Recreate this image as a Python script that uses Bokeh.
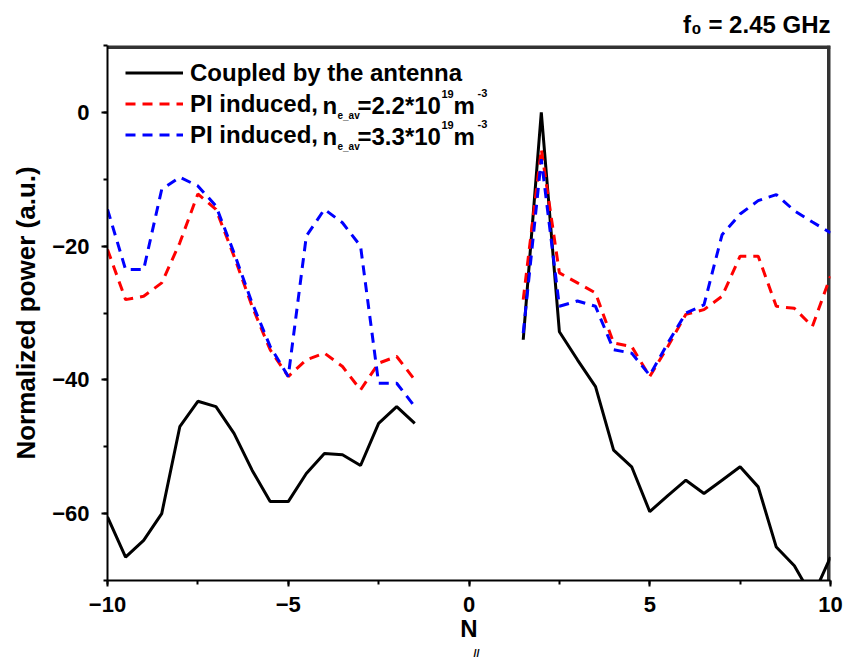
import math
from bokeh.plotting import figure
from bokeh.models import Range1d, SingleIntervalTicker, Legend, LegendItem, Label, Title
from bokeh.embed import file_html
from bokeh.resources import INLINE

# ---- data ----
n_par_left = [-10, -9.5, -9, -8.5, -8, -7.5, -7, -6.5, -6, -5.5, -5, -4.5, -4, -3.5, -3, -2.5, -2, -1.5]
n_par_right = [1.5, 2, 2.5, 3, 3.5, 4, 4.5, 5, 5.5, 6, 6.5, 7, 7.5, 8, 8.5, 9, 9.5, 10]

coupled_left = [-60.5, -66.5, -64, -60, -47, -43.2, -44, -48, -53.5, -58.2, -58.2, -54, -51, -51.2, -52.8, -46.5, -44, -46.5]
coupled_right = [-34, 0, -32.8, -37, -41, -50.5, -53, -59.7, -57.3, -55, -57, -55, -53, -56, -65, -67.8, -72.5, -66.5]

pi22_left = [-20.5, -28, -27.5, -25.5, -19.5, -12.2, -14.5, -21.5, -29, -35.5, -39.5, -37, -36, -38, -41.5, -37.5, -36.5, -40]
pi22_right = [-28, -5.5, -24, -25.5, -27, -34.5, -35, -39.5, -35, -30.2, -29.5, -27.5, -21.5, -21.5, -29, -29.3, -32, -24.5]

pi33_left = [-14.5, -23.5, -23.5, -11.5, -9.7, -11, -14, -21, -28.5, -35, -39.5, -18.5, -14.5, -16.5, -20, -40.5, -40.5, -44]
pi33_right = [-33, -7, -29, -28.2, -29, -35.5, -36, -39.3, -34.5, -30, -28.8, -18.3, -15.2, -13.2, -12.3, -14.7, -16.4, -18]

x_min, x_max = -10, 10
y_min, y_max = -70, 10
x_ticks_interval = 5
y_ticks_interval = 20

nan = float("nan")
xs = n_par_left + [nan] + n_par_right

FONT = "Liberation Sans"

p = figure(width=854, height=659, x_range=Range1d(x_min, x_max), y_range=Range1d(y_min, y_max),
           output_backend="svg", toolbar_location=None,
           min_border_left=107, min_border_right=24, min_border_top=45, min_border_bottom=79)
p.grid.visible = False
p.outline_line_color = None
p.background_fill_color = "white"
p.border_fill_color = "white"

# box frame: top and right edges (the outer part is clipped by the frame)
p.segment(x0=[x_min, x_max], y0=[y_max, y_min], x1=[x_max, x_max], y1=[y_max, y_max],
          line_color="#333333", line_width=7)

r1 = p.line(xs, coupled_left + [nan] + coupled_right, line_color="black", line_width=3)
r2 = p.line(xs, pi22_left + [nan] + pi22_right, line_color="#ff0000", line_width=3, line_dash="10 7")
r3 = p.line(xs, pi33_left + [nan] + pi33_right, line_color="#0000ff", line_width=3, line_dash="10 7")

p.xaxis.ticker = SingleIntervalTicker(interval=x_ticks_interval, num_minor_ticks=2)
p.yaxis.ticker = SingleIntervalTicker(interval=y_ticks_interval, num_minor_ticks=2)
for ax in (p.xaxis[0], p.yaxis[0]):
    ax.axis_line_width = 2
    ax.axis_line_color = "black"
    ax.major_tick_line_width = 2
    ax.minor_tick_line_width = 2
    ax.major_tick_line_color = "black"
    ax.minor_tick_line_color = "black"
    ax.major_tick_in = 0
    ax.major_tick_out = 6
    ax.minor_tick_in = 0
    ax.minor_tick_out = 4
    ax.major_label_text_font = FONT
    ax.major_label_text_font_style = "bold"
    ax.major_label_text_font_size = "22px"
    ax.major_label_text_color = "black"
    ax.axis_label_text_font = FONT
    ax.axis_label_text_font_style = "bold"
    ax.axis_label_text_color = "black"

p.xaxis.major_label_standoff = 10
p.yaxis.major_label_standoff = 12
p.yaxis.axis_label = "Normalized power (a.u.)"
p.yaxis.axis_label_text_font_size = "26px"
p.yaxis.axis_label_standoff = 8
p.xaxis.axis_label = "N"
p.xaxis.axis_label_text_font_size = "24px"
p.xaxis.axis_label_standoff = 0

# subscript "//" of N
p.add_layout(Title(text="//", align="left", offset=366, standoff=0,
                   text_font=FONT, text_font_style="bold", text_font_size="11px",
                   text_color="black"), "below")

# frequency note at top right
p.title.text = "f\u2080 = 2.45 GHz"
p.title.align = "right"
p.title.text_font = FONT
p.title.text_font_style = "bold"
p.title.text_font_size = "24px"
p.title.text_color = "black"
p.title.standoff = 15

legend = Legend(items=[LegendItem(label="Coupled by the antenna", renderers=[r1]),
                       LegendItem(label="PI induced,", renderers=[r2]),
                       LegendItem(label="PI induced,", renderers=[r3])],
                location=(18, 430), orientation="vertical",
                glyph_width=58, glyph_height=31, label_height=31, spacing=0,
                padding=0, margin=0, label_standoff=7,
                border_line_alpha=0, background_fill_alpha=0,
                label_text_font=FONT, label_text_font_style="bold",
                label_text_font_size="24px", label_text_color="black")
p.add_layout(legend)

FL, FB = 107, 580  # frame left / bottom on canvas
DY = 7  # baseline correction


def lab(text, X, Y, size):
    p.add_layout(Label(x=X - FL, y=FB - Y + DY, x_units="screen", y_units="screen", text=text,
                       text_font=FONT, text_font_style="bold", text_font_size=size,
                       text_baseline="alphabetic", text_align="left", text_color="black"))


for base, dens in ((111.5, "=2.2*10"), (142.5, "=3.3*10")):
    lab("n", 322, base, "24px")
    lab("e_av", 337, base + 10, "10px")
    lab(dens, 357, base, "24px")
    lab("19", 441, base - 11, "11px")
    lab("m", 453, base, "24px")
    lab("-3", 477, base - 12, "11px")

open("out.html", "w").write(file_html(p, INLINE))
